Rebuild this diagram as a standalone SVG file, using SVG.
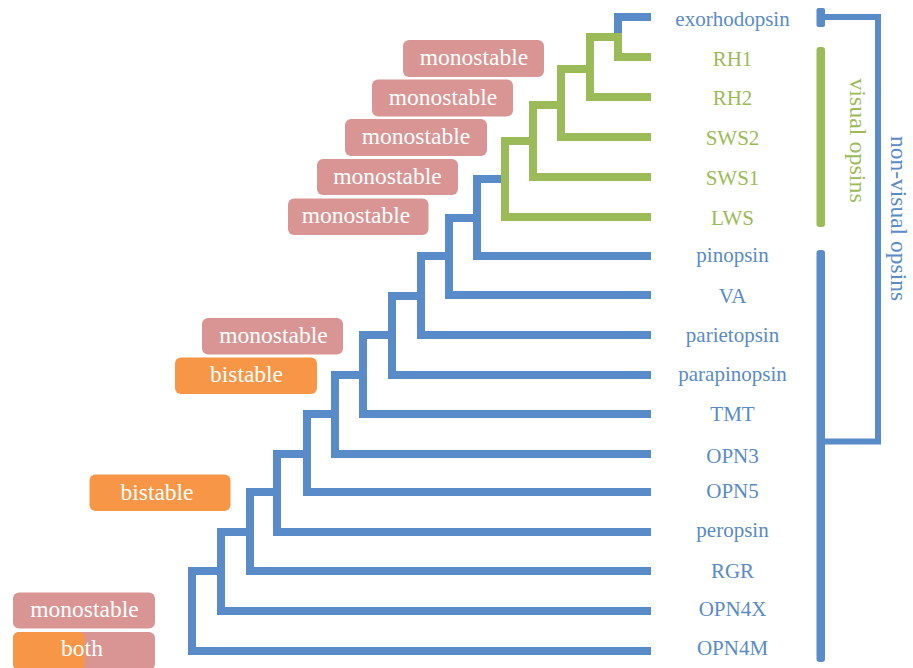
<svg xmlns="http://www.w3.org/2000/svg" width="913" height="668" viewBox="0 0 913 668">
<style>
.b{fill:none;stroke:#598bc8;stroke-width:8;stroke-linejoin:miter}
.g{fill:none;stroke:#9bbb59;stroke-width:8;stroke-linejoin:miter}
.lb{font-family:"Liberation Serif","Times New Roman",serif;font-size:21px;fill:#598bc8;text-anchor:middle}
.lg{font-family:"Liberation Serif","Times New Roman",serif;font-size:21px;fill:#9bbb59;text-anchor:middle}
.bt{font-family:"Liberation Serif","Times New Roman",serif;font-size:23.5px;fill:#ffffff;text-anchor:middle}
.pk{fill:#d99594}
.or{fill:#f79646}
</style>
<rect width="913" height="668" fill="#ffffff"/>
<g id="connectors">
<path class="b" d="M221,571 H192 V651 H651"/>
<path class="b" d="M250,532 H221 V611 H651"/>
<path class="b" d="M277,492 H250 V571 H651"/>
<path class="b" d="M307,454 H277 V532 H651"/>
<path class="b" d="M335,414 H307 V492 H651"/>
<path class="b" d="M363,375 H335 V454 H651"/>
<path class="b" d="M392,335 H363 V414 H651"/>
<path class="b" d="M421,296 H392 V375 H651"/>
<path class="b" d="M449,256 H421 V335 H651"/>
<path class="b" d="M477,218 H449 V295 H651"/>
<path class="b" d="M505,179 H477 V256 H651"/>
<path class="b" d="M651,17 H618 V33"/>
<path class="g" d="M533,141 H505 V217 H651"/>
<path class="g" d="M561,105 H533 V177 H651"/>
<path class="g" d="M590,69 H561 V137 H651"/>
<path class="g" d="M618,37 H590 V97 H651"/>
<path class="g" d="M618,33 V57 H651"/>
<rect x="816.5" y="8" width="8.5" height="19" rx="2" fill="#598bc8"/>
<rect x="816.5" y="47" width="8.5" height="180" rx="3" fill="#9bbb59"/>
<rect x="816.5" y="250" width="8.5" height="412" rx="3" fill="#598bc8"/>
<path d="M821,17 H878 V441.5 H821" fill="none" stroke="#598bc8" stroke-width="6"/>
</g>
<g id="group-labels">
<text class="lg" style="font-size:24px" transform="translate(850,140.5) rotate(90)">visual opsins</text>
<text class="lb" style="font-size:23.5px" transform="translate(891,218.5) rotate(90)">non-visual opsins</text>
</g>
<g id="leaf-exorhodopsin"><text class="lb" x="732.5" y="26">exorhodopsin</text></g>
<g id="leaf-RH1"><text class="lg" x="732.5" y="66">RH1</text></g>
<g id="leaf-RH2"><text class="lg" x="732.5" y="105">RH2</text></g>
<g id="leaf-SWS2"><text class="lg" x="732.5" y="145">SWS2</text></g>
<g id="leaf-SWS1"><text class="lg" x="732.5" y="185">SWS1</text></g>
<g id="leaf-LWS"><text class="lg" x="732.5" y="225">LWS</text></g>
<g id="leaf-pinopsin"><text class="lb" x="732.5" y="262">pinopsin</text></g>
<g id="leaf-VA"><text class="lb" x="732.5" y="302.5">VA</text></g>
<g id="leaf-parietopsin"><text class="lb" x="732.5" y="342">parietopsin</text></g>
<g id="leaf-parapinopsin"><text class="lb" x="732.5" y="381">parapinopsin</text></g>
<g id="leaf-TMT"><text class="lb" x="732.5" y="421">TMT</text></g>
<g id="leaf-OPN3"><text class="lb" x="732.5" y="462.5">OPN3</text></g>
<g id="leaf-OPN5"><text class="lb" x="732.5" y="498">OPN5</text></g>
<g id="leaf-peropsin"><text class="lb" x="732.5" y="537">peropsin</text></g>
<g id="leaf-RGR"><text class="lb" x="732.5" y="578">RGR</text></g>
<g id="leaf-OPN4X"><text class="lb" x="732.5" y="616">OPN4X</text></g>
<g id="leaf-OPN4M"><text class="lb" x="732.5" y="655">OPN4M</text></g>
<g id="box-1"><rect class="pk" x="403" y="40" width="141" height="37" rx="6"/><text class="bt" x="474" y="65">monostable</text></g>
<g id="box-2"><rect class="pk" x="372" y="79.5" width="141" height="37" rx="6"/><text class="bt" x="443" y="104.5">monostable</text></g>
<g id="box-3"><rect class="pk" x="345" y="119" width="142" height="37" rx="6"/><text class="bt" x="416" y="144">monostable</text></g>
<g id="box-4"><rect class="pk" x="317" y="159" width="141" height="36" rx="6"/><text class="bt" x="387.5" y="183.5">monostable</text></g>
<g id="box-5"><rect class="pk" x="288" y="198.5" width="140.5" height="36.5" rx="6"/><text class="bt" x="356" y="222.5">monostable</text></g>
<g id="box-6"><rect class="pk" x="202" y="318" width="141" height="36.5" rx="6"/><text class="bt" x="273.5" y="342.5">monostable</text></g>
<g id="box-7"><rect class="or" x="175" y="357.5" width="142" height="36.5" rx="6"/><text class="bt" x="246.5" y="382">bistable</text></g>
<g id="box-8"><rect class="or" x="89.5" y="474.5" width="141" height="36.5" rx="6"/><text class="bt" x="157" y="499.5">bistable</text></g>
<g id="box-9"><rect class="pk" x="13" y="592.5" width="142" height="36" rx="6"/><text class="bt" x="84.5" y="617">monostable</text></g>
<g id="box-10"><rect class="pk" x="13" y="632" width="142" height="38" rx="6"/><rect class="or" x="13" y="632" width="72" height="38" rx="6"/><text class="bt" x="82" y="656">both</text></g>
</svg>
